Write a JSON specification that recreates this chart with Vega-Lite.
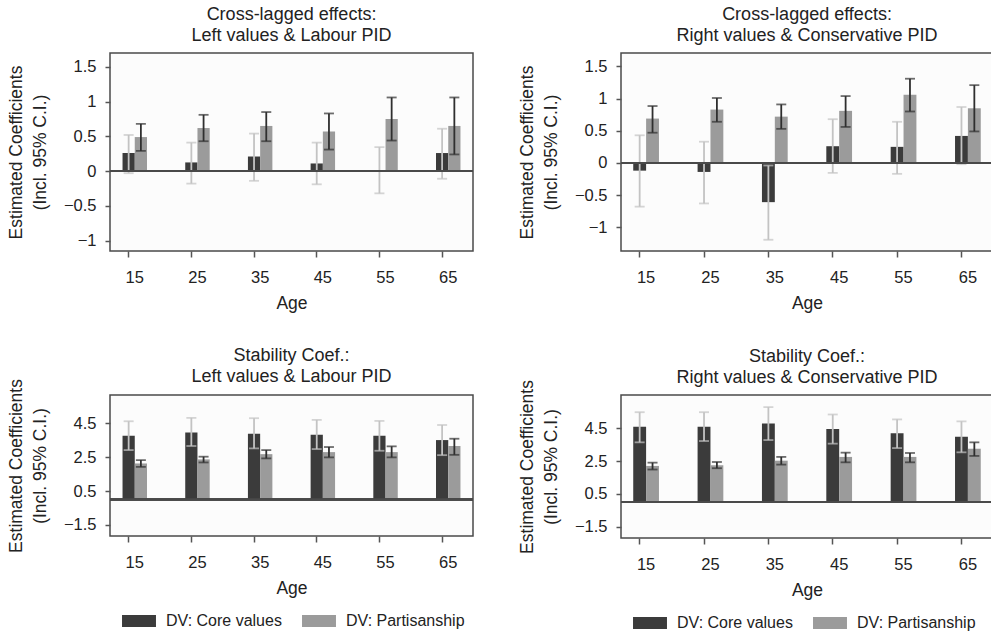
{
  "$schema": "https://vega.github.io/schema/vega-lite/v6.json",
  "background": "white",
  "padding": {"left": 6, "top": 5, "right": 0, "bottom": 0},
  "datasets": {
    "cl_left": [
      {"age": 15, "group": "DV: Core values", "coef": 0.26, "lo": -0.03, "hi": 0.52},
      {"age": 15, "group": "DV: Partisanship", "coef": 0.49, "lo": 0.29, "hi": 0.68},
      {"age": 25, "group": "DV: Core values", "coef": 0.125, "lo": -0.18, "hi": 0.41},
      {"age": 25, "group": "DV: Partisanship", "coef": 0.62, "lo": 0.43, "hi": 0.81},
      {"age": 35, "group": "DV: Core values", "coef": 0.21, "lo": -0.14, "hi": 0.54},
      {"age": 35, "group": "DV: Partisanship", "coef": 0.65, "lo": 0.43, "hi": 0.85},
      {"age": 45, "group": "DV: Core values", "coef": 0.11, "lo": -0.19, "hi": 0.41},
      {"age": 45, "group": "DV: Partisanship", "coef": 0.57, "lo": 0.31, "hi": 0.83},
      {"age": 55, "group": "DV: Core values", "coef": 0.01, "lo": -0.32, "hi": 0.345},
      {"age": 55, "group": "DV: Partisanship", "coef": 0.75, "lo": 0.44, "hi": 1.06},
      {"age": 65, "group": "DV: Core values", "coef": 0.26, "lo": -0.11, "hi": 0.61},
      {"age": 65, "group": "DV: Partisanship", "coef": 0.65, "lo": 0.24, "hi": 1.06}
    ],
    "cl_right": [
      {"age": 15, "group": "DV: Core values", "coef": -0.12, "lo": -0.68, "hi": 0.43},
      {"age": 15, "group": "DV: Partisanship", "coef": 0.69, "lo": 0.47, "hi": 0.885},
      {"age": 25, "group": "DV: Core values", "coef": -0.14, "lo": -0.63, "hi": 0.33},
      {"age": 25, "group": "DV: Partisanship", "coef": 0.83, "lo": 0.64, "hi": 1.01},
      {"age": 35, "group": "DV: Core values", "coef": -0.61, "lo": -1.195, "hi": -0.04},
      {"age": 35, "group": "DV: Partisanship", "coef": 0.72, "lo": 0.53, "hi": 0.91},
      {"age": 45, "group": "DV: Core values", "coef": 0.26, "lo": -0.155, "hi": 0.68},
      {"age": 45, "group": "DV: Partisanship", "coef": 0.81, "lo": 0.56, "hi": 1.04},
      {"age": 55, "group": "DV: Core values", "coef": 0.25, "lo": -0.17, "hi": 0.64},
      {"age": 55, "group": "DV: Partisanship", "coef": 1.06, "lo": 0.8, "hi": 1.31},
      {"age": 65, "group": "DV: Core values", "coef": 0.42, "lo": -0.02, "hi": 0.87},
      {"age": 65, "group": "DV: Partisanship", "coef": 0.85, "lo": 0.49, "hi": 1.21}
    ],
    "st_left": [
      {"age": 15, "group": "DV: Core values", "coef": 3.77, "lo": 2.92, "hi": 4.62},
      {"age": 15, "group": "DV: Partisanship", "coef": 2.13, "lo": 1.93, "hi": 2.33},
      {"age": 25, "group": "DV: Core values", "coef": 3.95, "lo": 3.16, "hi": 4.82},
      {"age": 25, "group": "DV: Partisanship", "coef": 2.37, "lo": 2.19, "hi": 2.53},
      {"age": 35, "group": "DV: Core values", "coef": 3.89, "lo": 3.02, "hi": 4.8},
      {"age": 35, "group": "DV: Partisanship", "coef": 2.68, "lo": 2.43, "hi": 2.92},
      {"age": 45, "group": "DV: Core values", "coef": 3.83, "lo": 2.98, "hi": 4.7},
      {"age": 45, "group": "DV: Partisanship", "coef": 2.8, "lo": 2.49, "hi": 3.1},
      {"age": 55, "group": "DV: Core values", "coef": 3.77, "lo": 2.88, "hi": 4.64},
      {"age": 55, "group": "DV: Partisanship", "coef": 2.8, "lo": 2.49, "hi": 3.14},
      {"age": 65, "group": "DV: Core values", "coef": 3.51, "lo": 2.62, "hi": 4.4},
      {"age": 65, "group": "DV: Partisanship", "coef": 3.16, "lo": 2.64, "hi": 3.59}
    ],
    "st_right": [
      {"age": 15, "group": "DV: Core values", "coef": 4.6, "lo": 3.65, "hi": 5.49},
      {"age": 15, "group": "DV: Partisanship", "coef": 2.21, "lo": 1.99, "hi": 2.41},
      {"age": 25, "group": "DV: Core values", "coef": 4.6, "lo": 3.73, "hi": 5.49},
      {"age": 25, "group": "DV: Partisanship", "coef": 2.25, "lo": 2.07, "hi": 2.45},
      {"age": 35, "group": "DV: Core values", "coef": 4.8, "lo": 3.79, "hi": 5.8},
      {"age": 35, "group": "DV: Partisanship", "coef": 2.53, "lo": 2.29, "hi": 2.76},
      {"age": 45, "group": "DV: Core values", "coef": 4.46, "lo": 3.57, "hi": 5.35},
      {"age": 45, "group": "DV: Partisanship", "coef": 2.76, "lo": 2.43, "hi": 3.02},
      {"age": 55, "group": "DV: Core values", "coef": 4.2, "lo": 3.3, "hi": 5.05},
      {"age": 55, "group": "DV: Partisanship", "coef": 2.76, "lo": 2.43, "hi": 3.0},
      {"age": 65, "group": "DV: Core values", "coef": 3.99, "lo": 3.04, "hi": 4.93},
      {"age": 65, "group": "DV: Partisanship", "coef": 3.26, "lo": 2.82, "hi": 3.65}
    ]
  },
  "columns": 2,
  "spacing": {"row": 32, "column": 42},
  "resolve": {
    "scale": {"x": "independent", "y": "independent", "xOffset": "independent", "color": "independent", "stroke": "independent", "fill": "independent"},
    "legend": {"color": "independent"},
    "axis": {"x": "independent", "y": "independent"}
  },
  "concat": [
    {
      "width": 363, "height": 198,
      "title": {"text": ["Cross-lagged effects:", "Left values & Labour PID"]},
      "data": {"name": "cl_left"},
      "layer": [
        {"mark": {"type": "bar"},
         "encoding": {
           "x": {"field": "age", "type": "ordinal", "title": "Age", "scale": {"paddingInner": 0.61, "paddingOuter": 0.2}, "axis": {"bandPosition": 0.25, "labelAngle": 0}},
           "xOffset": {"field": "group", "type": "nominal", "scale": {"paddingInner": 0, "paddingOuter": 0}},
           "y": {"field": "coef", "type": "quantitative", "title": ["Estimated Coefficients", "(Incl. 95% C.I.)"], "scale": {"domain": [-1.15, 1.7], "nice": false, "zero": false}, "axis": {"values": [-1, -0.5, 0, 0.5, 1, 1.5], "tickCount": 6, "labelExpr": "format(datum.value, '~g')", "labelOverlap": false}},
           "y2": {"datum": 0},
           "color": {"field": "group", "type": "nominal", "scale": {"domain": ["DV: Core values", "DV: Partisanship"], "range": ["#3b3b3b", "#9b9b9b"]}, "legend": null}
         }},
        {"mark": {"type": "rule", "strokeWidth": 1.8},
         "encoding": {
           "x": {"field": "age", "type": "ordinal"},
           "xOffset": {"field": "group", "type": "nominal"},
           "y": {"field": "lo", "type": "quantitative", "title": ["Estimated Coefficients", "(Incl. 95% C.I.)"]},
           "y2": {"field": "hi"},
           "stroke": {"field": "group", "type": "nominal", "scale": {"domain": ["DV: Core values", "DV: Partisanship"], "range": ["#c3c3c3", "#2f2f2f"]}, "legend": null}
         }},
        {"mark": {"type": "tick", "size": 10, "thickness": 1.8, "orient": "horizontal"},
         "encoding": {
           "x": {"field": "age", "type": "ordinal"},
           "xOffset": {"field": "group", "type": "nominal"},
           "y": {"field": "lo", "type": "quantitative", "title": ["Estimated Coefficients", "(Incl. 95% C.I.)"]},
           "fill": {"field": "group", "type": "nominal", "scale": {"domain": ["DV: Core values", "DV: Partisanship"], "range": ["#c3c3c3", "#2f2f2f"]}, "legend": null}
         }},
        {"mark": {"type": "tick", "size": 10, "thickness": 1.8, "orient": "horizontal"},
         "encoding": {
           "x": {"field": "age", "type": "ordinal"},
           "xOffset": {"field": "group", "type": "nominal"},
           "y": {"field": "hi", "type": "quantitative", "title": ["Estimated Coefficients", "(Incl. 95% C.I.)"]},
           "fill": {"field": "group", "type": "nominal", "scale": {"domain": ["DV: Core values", "DV: Partisanship"], "range": ["#c3c3c3", "#2f2f2f"]}, "legend": null}
         }},
        {"mark": {"type": "rule", "color": "#4a4a4a", "strokeWidth": 1.5},
         "encoding": {"y": {"datum": 0}}}
      ]
    },
    {
      "width": 372, "height": 198,
      "title": {"text": ["Cross-lagged effects:", "Right values & Conservative PID"]},
      "data": {"name": "cl_right"},
      "layer": [
        {"mark": {"type": "bar"},
         "encoding": {
           "x": {"field": "age", "type": "ordinal", "title": "Age", "scale": {"paddingInner": 0.6, "paddingOuter": 0.19}, "axis": {"bandPosition": 0.25, "labelAngle": 0}},
           "xOffset": {"field": "group", "type": "nominal", "scale": {"paddingInner": 0, "paddingOuter": 0}},
           "y": {"field": "coef", "type": "quantitative", "title": ["Estimated Coefficients", "(Incl. 95% C.I.)"], "scale": {"domain": [-1.37, 1.71], "nice": false, "zero": false}, "axis": {"values": [-1, -0.5, 0, 0.5, 1, 1.5], "tickCount": 6, "labelExpr": "format(datum.value, '~g')", "labelOverlap": false}},
           "y2": {"datum": 0},
           "color": {"field": "group", "type": "nominal", "scale": {"domain": ["DV: Core values", "DV: Partisanship"], "range": ["#3b3b3b", "#9b9b9b"]}, "legend": null}
         }},
        {"mark": {"type": "rule", "strokeWidth": 1.8},
         "encoding": {
           "x": {"field": "age", "type": "ordinal"},
           "xOffset": {"field": "group", "type": "nominal"},
           "y": {"field": "lo", "type": "quantitative", "title": ["Estimated Coefficients", "(Incl. 95% C.I.)"]},
           "y2": {"field": "hi"},
           "stroke": {"field": "group", "type": "nominal", "scale": {"domain": ["DV: Core values", "DV: Partisanship"], "range": ["#c3c3c3", "#2f2f2f"]}, "legend": null}
         }},
        {"mark": {"type": "tick", "size": 10, "thickness": 1.8, "orient": "horizontal"},
         "encoding": {
           "x": {"field": "age", "type": "ordinal"},
           "xOffset": {"field": "group", "type": "nominal"},
           "y": {"field": "lo", "type": "quantitative", "title": ["Estimated Coefficients", "(Incl. 95% C.I.)"]},
           "fill": {"field": "group", "type": "nominal", "scale": {"domain": ["DV: Core values", "DV: Partisanship"], "range": ["#c3c3c3", "#2f2f2f"]}, "legend": null}
         }},
        {"mark": {"type": "tick", "size": 10, "thickness": 1.8, "orient": "horizontal"},
         "encoding": {
           "x": {"field": "age", "type": "ordinal"},
           "xOffset": {"field": "group", "type": "nominal"},
           "y": {"field": "hi", "type": "quantitative", "title": ["Estimated Coefficients", "(Incl. 95% C.I.)"]},
           "fill": {"field": "group", "type": "nominal", "scale": {"domain": ["DV: Core values", "DV: Partisanship"], "range": ["#c3c3c3", "#2f2f2f"]}, "legend": null}
         }},
        {"mark": {"type": "rule", "color": "#4a4a4a", "strokeWidth": 1.5},
         "encoding": {"y": {"datum": 0}}}
      ]
    },
    {
      "width": 363, "height": 141,
      "title": {"text": ["Stability Coef.:", "Left values & Labour PID"], "offset": -7},
      "data": {"name": "st_left"},
      "layer": [
        {"mark": {"type": "bar"},
         "encoding": {
           "x": {"field": "age", "type": "ordinal", "title": "Age", "scale": {"paddingInner": 0.61, "paddingOuter": 0.2}, "axis": {"bandPosition": 0.25, "labelAngle": 0}},
           "xOffset": {"field": "group", "type": "nominal", "scale": {"paddingInner": 0, "paddingOuter": 0}},
           "y": {"field": "coef", "type": "quantitative", "title": ["Estimated Coefficients", "(Incl. 95% C.I.)"], "scale": {"domain": [-2.15, 6.17], "nice": false, "zero": false}, "axis": {"values": [-1.5, 0.5, 2.5, 4.5], "tickCount": 4, "labelExpr": "format(datum.value, '~g')", "labelOverlap": false}},
           "y2": {"datum": 0},
           "color": {"field": "group", "type": "nominal", "title": null, "scale": {"domain": ["DV: Core values", "DV: Partisanship"], "range": ["#3b3b3b", "#9b9b9b"]}, "legend": {"orient": "bottom", "direction": "horizontal"}}
         }},
        {"mark": {"type": "rule", "strokeWidth": 1.8},
         "encoding": {
           "x": {"field": "age", "type": "ordinal"},
           "xOffset": {"field": "group", "type": "nominal"},
           "y": {"field": "lo", "type": "quantitative", "title": ["Estimated Coefficients", "(Incl. 95% C.I.)"]},
           "y2": {"field": "hi"},
           "stroke": {"field": "group", "type": "nominal", "scale": {"domain": ["DV: Core values", "DV: Partisanship"], "range": ["#c3c3c3", "#2f2f2f"]}, "legend": null}
         }},
        {"mark": {"type": "tick", "size": 10, "thickness": 1.8, "orient": "horizontal"},
         "encoding": {
           "x": {"field": "age", "type": "ordinal"},
           "xOffset": {"field": "group", "type": "nominal"},
           "y": {"field": "lo", "type": "quantitative", "title": ["Estimated Coefficients", "(Incl. 95% C.I.)"]},
           "fill": {"field": "group", "type": "nominal", "scale": {"domain": ["DV: Core values", "DV: Partisanship"], "range": ["#c3c3c3", "#2f2f2f"]}, "legend": null}
         }},
        {"mark": {"type": "tick", "size": 10, "thickness": 1.8, "orient": "horizontal"},
         "encoding": {
           "x": {"field": "age", "type": "ordinal"},
           "xOffset": {"field": "group", "type": "nominal"},
           "y": {"field": "hi", "type": "quantitative", "title": ["Estimated Coefficients", "(Incl. 95% C.I.)"]},
           "fill": {"field": "group", "type": "nominal", "scale": {"domain": ["DV: Core values", "DV: Partisanship"], "range": ["#c3c3c3", "#2f2f2f"]}, "legend": null}
         }},
        {"mark": {"type": "rule", "color": "#4a4a4a", "strokeWidth": 1.5},
         "encoding": {"y": {"datum": 0}}}
      ]
    },
    {
      "width": 372, "height": 143,
      "title": {"text": ["Stability Coef.:", "Right values & Conservative PID"], "offset": -7},
      "data": {"name": "st_right"},
      "layer": [
        {"mark": {"type": "bar"},
         "encoding": {
           "x": {"field": "age", "type": "ordinal", "title": "Age", "scale": {"paddingInner": 0.6, "paddingOuter": 0.19}, "axis": {"bandPosition": 0.25, "labelAngle": 0}},
           "xOffset": {"field": "group", "type": "nominal", "scale": {"paddingInner": 0, "paddingOuter": 0}},
           "y": {"field": "coef", "type": "quantitative", "title": ["Estimated Coefficients", "(Incl. 95% C.I.)"], "scale": {"domain": [-2.19, 6.54], "nice": false, "zero": false}, "axis": {"values": [-1.5, 0.5, 2.5, 4.5], "tickCount": 4, "labelExpr": "format(datum.value, '~g')", "labelOverlap": false}},
           "y2": {"datum": 0},
           "color": {"field": "group", "type": "nominal", "title": null, "scale": {"domain": ["DV: Core values", "DV: Partisanship"], "range": ["#3b3b3b", "#9b9b9b"]}, "legend": {"orient": "bottom", "direction": "horizontal"}}
         }},
        {"mark": {"type": "rule", "strokeWidth": 1.8},
         "encoding": {
           "x": {"field": "age", "type": "ordinal"},
           "xOffset": {"field": "group", "type": "nominal"},
           "y": {"field": "lo", "type": "quantitative", "title": ["Estimated Coefficients", "(Incl. 95% C.I.)"]},
           "y2": {"field": "hi"},
           "stroke": {"field": "group", "type": "nominal", "scale": {"domain": ["DV: Core values", "DV: Partisanship"], "range": ["#c3c3c3", "#2f2f2f"]}, "legend": null}
         }},
        {"mark": {"type": "tick", "size": 10, "thickness": 1.8, "orient": "horizontal"},
         "encoding": {
           "x": {"field": "age", "type": "ordinal"},
           "xOffset": {"field": "group", "type": "nominal"},
           "y": {"field": "lo", "type": "quantitative", "title": ["Estimated Coefficients", "(Incl. 95% C.I.)"]},
           "fill": {"field": "group", "type": "nominal", "scale": {"domain": ["DV: Core values", "DV: Partisanship"], "range": ["#c3c3c3", "#2f2f2f"]}, "legend": null}
         }},
        {"mark": {"type": "tick", "size": 10, "thickness": 1.8, "orient": "horizontal"},
         "encoding": {
           "x": {"field": "age", "type": "ordinal"},
           "xOffset": {"field": "group", "type": "nominal"},
           "y": {"field": "hi", "type": "quantitative", "title": ["Estimated Coefficients", "(Incl. 95% C.I.)"]},
           "fill": {"field": "group", "type": "nominal", "scale": {"domain": ["DV: Core values", "DV: Partisanship"], "range": ["#c3c3c3", "#2f2f2f"]}, "legend": null}
         }},
        {"mark": {"type": "rule", "color": "#4a4a4a", "strokeWidth": 1.5},
         "encoding": {"y": {"datum": 0}}}
      ]
    }
  ],
  "config": {
    "font": "Liberation Sans",
    "view": {"stroke": "#4a4a4a", "strokeWidth": 1.5, "fill": "#fcfcfc"},
    "title": {"fontSize": 18, "fontWeight": "normal", "color": "#222222", "offset": 8, "lineHeight": 21, "font": "Liberation Sans"},
    "axis": {"labelFont": "Liberation Sans", "titleFont": "Liberation Sans", "labelFontSize": 16.5, "titleFontSize": 17.5, "titleFontWeight": "normal", "labelColor": "#222222", "titleColor": "#222222", "tickColor": "#555555", "tickWidth": 1.5, "domain": false, "grid": false},
    "axisY": {"tickSize": 5, "labelPadding": 9, "titlePadding": 14, "titleLineHeight": 24},
    "axisX": {"tickSize": 6, "labelPadding": 12, "titlePadding": 9},
    "legend": {"orient": "bottom", "direction": "horizontal", "symbolType": "M-2.83,-1H2.83V1H-2.83Z", "symbolSize": 144, "symbolStrokeWidth": 0, "labelFontSize": 16, "labelColor": "#222222", "labelFont": "Liberation Sans", "labelOffset": 19, "columnPadding": 8, "symbolOffset": 21, "offset": 16}
  }
}
